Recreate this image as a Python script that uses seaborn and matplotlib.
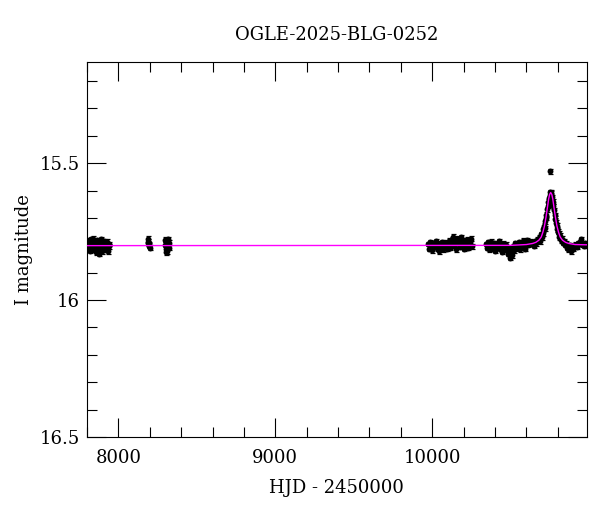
import matplotlib
matplotlib.use('Agg')
import matplotlib.pyplot as plt
import seaborn as sns
import pandas as pd
from matplotlib.ticker import MultipleLocator, FuncFormatter

sns.set_style('ticks')
plt.rcParams['font.family'] = ['DejaVu Serif']
plt.rcParams['text.color'] = 'black'
plt.rcParams['axes.labelcolor'] = 'black'
plt.rcParams['xtick.color'] = 'black'
plt.rcParams['ytick.color'] = 'black'

# OGLE photometry (HJD - 2450000, I mag)
t1 = [7803, 7806, 7809, 7812, 7815, 7818, 7821, 7824, 7827, 7830,
      7834, 7838, 7842, 7846, 7850, 7854, 7858, 7862, 7866, 7870,
      7874, 7878, 7882, 7886, 7890, 7894, 7898, 7902, 7906, 7910,
      7914, 7918, 7922, 7926, 7930, 7934, 7938, 7942]
m1 = [15.790, 15.812, 15.798, 15.782, 15.806, 15.820, 15.793, 15.778, 15.801, 15.815,
      15.789, 15.775, 15.797, 15.810, 15.786, 15.803, 15.825, 15.794, 15.781, 15.799,
      15.818, 15.830, 15.806, 15.788, 15.777, 15.801, 15.822, 15.809, 15.792, 15.784,
      15.803, 15.817, 15.797, 15.786, 15.808, 15.821, 15.795, 15.803]

t2 = [8186, 8189, 8191, 8194, 8197, 8200]
m2 = [15.775, 15.792, 15.786, 15.801, 15.795, 15.808]

t3 = [8296, 8300, 8304, 8308, 8312, 8316, 8320, 8324, 8305, 8315]
m3 = [15.780, 15.797, 15.812, 15.789, 15.822, 15.803, 15.791, 15.808, 15.826, 15.777]

t4 = [9972, 9979, 9986, 9993, 10000, 10007, 10014, 10021, 10028, 10035,
      10042, 10049, 10056, 10063, 10070, 10077, 10084, 10091, 10098, 10105,
      10112, 10119, 10126, 10133, 10140, 10147, 10154, 10161, 10168, 10175,
      10182, 10189, 10196, 10203, 10210, 10217, 10224, 10231, 10238, 10245, 10252]
m4 = [15.795, 15.812, 15.788, 15.803, 15.818, 15.792, 15.806, 15.785, 15.811, 15.798,
      15.822, 15.794, 15.807, 15.789, 15.815, 15.800, 15.791, 15.812, 15.797, 15.783,
      15.809, 15.795, 15.779, 15.768, 15.802, 15.786, 15.815, 15.775, 15.794, 15.806,
      15.771, 15.797, 15.783, 15.812, 15.790, 15.801, 15.779, 15.808, 15.795, 15.776, 15.803]

t5 = [10340, 10347, 10354, 10361, 10368, 10375, 10382, 10389, 10396, 10403,
      10410, 10417, 10424, 10431, 10438, 10445, 10452, 10459, 10466, 10473,
      10480, 10487, 10494, 10501, 10508, 10515, 10522, 10529, 10536, 10543,
      10550, 10557, 10564, 10571, 10578, 10585, 10592, 10599, 10606, 10613, 10620]
m5 = [15.795, 15.808, 15.789, 15.815, 15.799, 15.786, 15.811, 15.802, 15.792, 15.820,
      15.797, 15.806, 15.785, 15.813, 15.800, 15.824, 15.794, 15.809, 15.817, 15.798,
      15.830, 15.812, 15.845, 15.821, 15.836, 15.805, 15.818, 15.793, 15.811, 15.801,
      15.788, 15.815, 15.797, 15.806, 15.783, 15.799, 15.812, 15.790, 15.781, 15.797, 15.786]

t6 = [10630, 10638, 10646, 10654, 10662, 10670, 10678, 10685, 10692, 10698,
      10703, 10708, 10712, 10716, 10720, 10724, 10728, 10732, 10736, 10740,
      10744, 10748, 10752, 10750, 10756, 10760, 10764, 10768, 10772, 10776,
      10780, 10784, 10788, 10792, 10796, 10800, 10805, 10810, 10815, 10820,
      10826, 10832, 10838, 10845, 10852, 10860, 10868, 10876, 10884, 10892,
      10900, 10910, 10920, 10930, 10940, 10948, 10956, 10965, 10975, 10983]
m6 = [15.795, 15.788, 15.801, 15.784, 15.792, 15.780, 15.772, 15.785, 15.760, 15.770,
      15.742, 15.755, 15.728, 15.738, 15.712, 15.700, 15.688, 15.668, 15.655, 15.640,
      15.628, 15.615, 15.605, 15.530, 15.608, 15.612, 15.625, 15.640, 15.658, 15.672,
      15.690, 15.703, 15.718, 15.728, 15.742, 15.750, 15.758, 15.770, 15.765, 15.782,
      15.776, 15.790, 15.785, 15.798, 15.792, 15.808, 15.815, 15.800, 15.822, 15.805,
      15.812, 15.798, 15.806, 15.793, 15.788, 15.777, 15.796, 15.802, 15.793, 15.799]

mag_err = 0.009

# microlensing model curve
model_t = [7800, 10500, 10600, 10640, 10660, 10680, 10695, 10705, 10715, 10725,
           10735, 10742, 10748, 10755, 10762, 10768, 10775, 10785, 10795, 10805,
           10815, 10830, 10850, 10870, 10910, 10985]
model_m = [15.801, 15.800, 15.797, 15.793, 15.789, 15.781, 15.769, 15.752, 15.730, 15.697,
           15.658, 15.630, 15.614, 15.607, 15.614, 15.630, 15.658, 15.697, 15.730, 15.752,
           15.769, 15.781, 15.789, 15.793, 15.797, 15.798]

df = pd.DataFrame({'hjd': t1 + t2 + t3 + t4 + t5 + t6,
                   'mag': m1 + m2 + m3 + m4 + m5 + m6})

fig = plt.figure(figsize=(6, 5.12), dpi=100)
ax = fig.add_axes([0.145, 0.1465, 0.833, 0.7325])

ax.errorbar(df['hjd'], df['mag'], yerr=mag_err, fmt='none', ecolor='black',
            elinewidth=0.9, capsize=1.8, capthick=0.9, zorder=2)
sns.scatterplot(data=df, x='hjd', y='mag', color='black', s=18, linewidth=0,
                ax=ax, zorder=3)
sns.lineplot(x=model_t, y=model_m, color='#ff00ff', lw=1, ax=ax, zorder=4,
             sort=False, estimator=None)

ax.set_xlim(7800, 10985)
ax.set_ylim(16.5, 15.13)
ax.xaxis.set_major_locator(MultipleLocator(1000))
ax.xaxis.set_minor_locator(MultipleLocator(200))
ax.yaxis.set_major_locator(MultipleLocator(0.5))
ax.yaxis.set_minor_locator(MultipleLocator(0.1))
ax.yaxis.set_major_formatter(FuncFormatter(lambda v, p: f'{v:g}'))

ax.tick_params(which='both', direction='in', top=True, right=True,
               width=0.8, color='black', labelsize=13)
ax.tick_params(which='major', length=14)
ax.tick_params(axis='x', which='major', pad=9)
ax.tick_params(axis='y', which='major', pad=5)
ax.tick_params(which='minor', length=7)
for s in ax.spines.values():
    s.set_linewidth(0.8)
    s.set_color('black')

ax.set_xlabel('HJD - 2450000', fontsize=13, labelpad=8)
ax.set_ylabel('I magnitude', fontsize=13, labelpad=5)
fig.text(0.5617, 1 - 35 / 512, 'OGLE-2025-BLG-0252', ha='center', va='center',
         fontsize=13)

fig.savefig('out.png', dpi=100)
